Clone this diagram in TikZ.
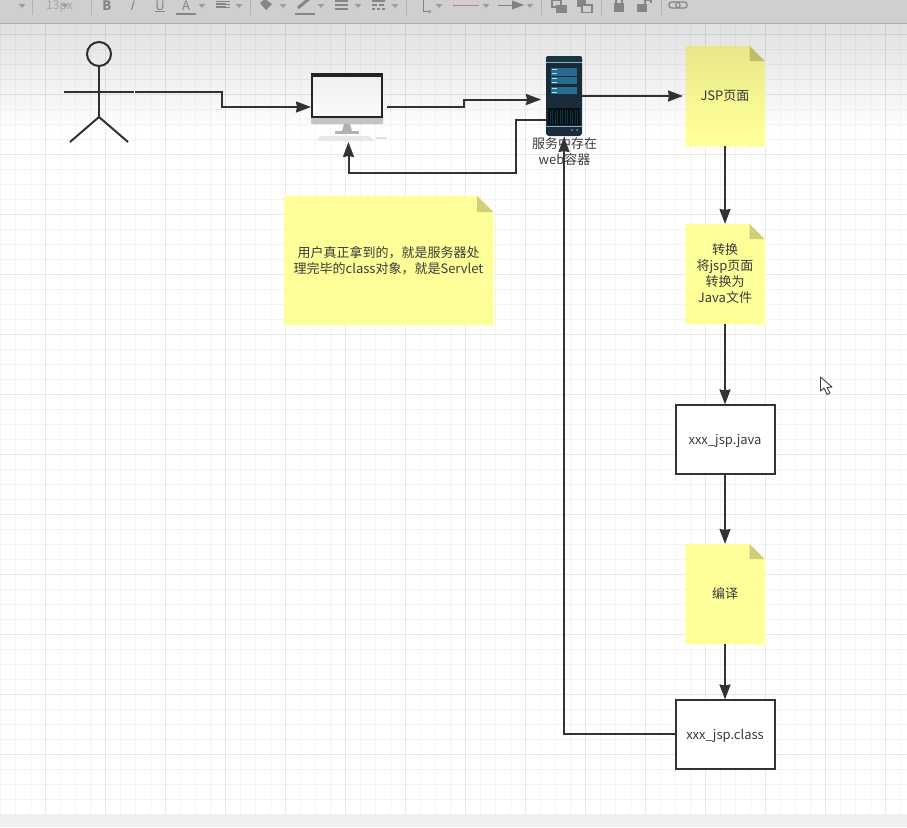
\documentclass[tikz,border=0pt]{standalone}
\usepackage{fontspec}
\setmainfont{Noto Sans CJK SC}
\usetikzlibrary{arrows.meta,fadings,calc}
\pgfdeclarelayer{gridlayer}
\pgfdeclarelayer{notelayer}
\pgfdeclarelayer{toplayer}
\pgfsetlayers{gridlayer,notelayer,main,toplayer}
\definecolor{ink}{HTML}{333333}
\definecolor{inktext}{HTML}{3A3A3A}
\definecolor{notey}{HTML}{FFFF99}
\definecolor{foldy}{HTML}{CFCF78}
\definecolor{minorgrid}{HTML}{F4F4F4}
\definecolor{majorgrid}{HTML}{E8E8E8}
\definecolor{barbg}{HTML}{CFCFCF}
\definecolor{baricon}{HTML}{858585}
\definecolor{srvdark}{HTML}{1B2D3C}
\definecolor{srvtop}{HTML}{1A3A44}
\definecolor{srvblue}{HTML}{2A7396}
\tikzfading[name=topfade, top color=transparent!85, bottom color=transparent!100]
\tikzset{
  x=1pt,y=-1pt,
  txt/.style={font=\fontsize{13}{16}\selectfont,text=inktext,align=center,inner sep=0pt,outer sep=0pt},
  oneline/.style={text height=10pt,text depth=0pt},
  plainbox/.style={txt,oneline,draw=ink,line width=2pt,fill=white,minimum width=99pt,minimum height=69pt},
  ghost/.style={inner sep=0pt,outer sep=0pt},
  conn/.style={draw=ink,line width=2pt,-{Stealth[length=15pt,width=11pt,inset=1pt]}},
  stick/.style={draw=ink,line width=2pt},
  baricn/.style={font=\fontsize{13}{13}\selectfont,text=baricon,inner sep=0pt,outer sep=0pt},
  caret/.style={fill=baricon!80},
}
% name, centre x, centre y, width, height, fold, text
\newcommand{\stickynote}[7]{%
  \node[txt,minimum width=#4 pt,minimum height=#5 pt] (#1) at (#2,#3) {#7};
  \begin{pgfonlayer}{notelayer}
    \fill[notey!45] ([xshift=1pt,yshift=-#6 pt]#1.north east) -- ([xshift=1.5pt,yshift=-#6 pt]#1.north east)
       -- ([xshift=1.5pt,yshift=-1pt]#1.south east) -- ([yshift=-1pt]#1.south west) -- (#1.south west) -- cycle;
    \fill[notey] (#1.north west) -- ([xshift=-#6 pt]#1.north east) -- ([yshift=-#6 pt]#1.north east)
       -- (#1.south east) -- (#1.south west) -- cycle;
    \fill[foldy] ([xshift=-#6 pt]#1.north east) -- ([yshift=-#6 pt]#1.north east) -- ([xshift=-#6 pt,yshift=-#6 pt]#1.north east) -- cycle;
  \end{pgfonlayer}
}
\newcommand{\barcaret}[1]{\fill[caret] (#1-3.5,4) -- (#1+3.5,4) -- (#1,8) -- cycle;}
\begin{document}
\begin{tikzpicture}
\useasboundingbox (0,0) rectangle (907,827);
\begin{pgfonlayer}{gridlayer}
  \fill[white] (0,0) rectangle (907,827);
  \foreach \k in {0,...,60} {
    \draw[minorgrid,line width=1pt] ({0.7+15*\k},24) -- ({0.7+15*\k},814);
  }
  \foreach \k in {0,...,53} {
    \draw[minorgrid,line width=1pt] (0,{19+15*\k}) -- (907,{19+15*\k});
  }
  \foreach \k in {0,...,14} {
    \draw[majorgrid,line width=1pt] ({45.7+60*\k},24) -- ({45.7+60*\k},814);
  }
  \foreach \k in {0,...,13} {
    \draw[majorgrid,line width=1pt] (0,{34+60*\k}) -- (907,{34+60*\k});
  }
  \fill[black!6] (0,814) rectangle (907,827);
\end{pgfonlayer}

% actor
\node[ghost,minimum width=70pt,minimum height=101pt] (actor) at (99,91.5) {};
\draw[stick] (99,54) circle (12);
\draw[stick] (99,66) -- (99,117);
\draw[stick] (actor.west) -- (134,91.5);
\draw[stick] (70,142) -- (99,117) -- (128,142);

% computer
\node[ghost,minimum width=72pt,minimum height=68pt] (pc) at (347,107) {};
\fill[black!22,rounded corners=1pt] (311,116) rectangle (383,124);
\filldraw[fill=white,draw=black!85,line width=2pt] (312,75) rectangle (382,117);
\fill[black!85] (311,73) rectangle (383,76.5);
\fill[black!30] (344,124) -- (350,124) -- (352,131) -- (342,131) -- cycle;
\fill[black!30] (335,131) rectangle (359,133.5);
\fill[black!9] (320,136) -- (369,136) -- (375,141) -- (317,141) -- cycle;
\fill[black!12] (376,136.5) rectangle (387,139);

% server
\node[ghost,fill=srvdark,rounded corners=3pt,minimum width=36pt,minimum height=80pt] (srv) at (564,96) {};
\fill[srvtop,rounded corners=2pt] (546,56) rectangle (582,62);
\fill[srvblue!45] (546,62) rectangle (582,63);
\fill[srvblue] (551,68) rectangle (577,76);
\fill[srvblue] (551,77) rectangle (577,84);
\fill[srvblue] (551,87) rectangle (577,94);
\foreach \y in {69.5,73.5,78.5,82,88.5,92} {
  \draw[cyan!25,line width=0.8pt] (552,\y) -- (557,\y);
}
\fill[black!70!srvdark] (548,108) rectangle (580,125);
\foreach \x in {550,552.5,...,578} {
  \draw[srvblue!45!black,line width=0.6pt] (\x,110) -- (\x,124);
}
\fill[srvblue!60!white] (546,125.5) rectangle (582,127);
\fill[srvblue!70] (572,130) circle (1);
\fill[srvblue!70] (577,130) circle (1);
\node[txt] (srvlabel) at (564.5,151.5) {服务中存在\\web容器};

% notes
\stickynote{jsp}{725}{96}{79}{100}{15}{\rule{0pt}{11pt}JSP页面}
\stickynote{conv}{725}{274}{79}{100}{15}{转换\\将jsp页面\\转换为\\Java文件}
\stickynote{comp}{725}{594}{79}{100}{15}{编译}
\stickynote{info}{388.5}{260.5}{209}{129}{16}{用户真正拿到的，就是服务器处\\理完毕的class对象，就是Servlet}

% boxes
\node[plainbox] (java) at (725,439) {xxx\_jsp.java};
\node[plainbox] (cls) at (725,734) {xxx\_jsp.class};

% connectors
\coordinate (pcin) at (311,107);
\coordinate (a1) at (135,91.5);
\coordinate (a2) at (222,91.5);
\coordinate (a3) at (222,107);
\draw[conn] (a1) -- (a2) -- (a3) -- (pcin);
\coordinate (b1) at (387,107);
\coordinate (b2) at (464,107);
\coordinate (b3) at (464,99.5);
\coordinate (b4) at (541,99.5);
\draw[conn] (b1) -- (b2) -- (b3) -- (b4);
\coordinate (jspin) at (683,96);
\draw[conn] (srv.east) -- (jspin);
\coordinate (c0) at (546,120);
\coordinate (c1) at (516,120);
\coordinate (c2) at (516,173);
\coordinate (c3) at (348.5,173);
\coordinate (c4) at (348.5,142);
\draw[conn] (c0) -- (c1) -- (c2) -- (c3) -- (c4);
\draw[conn] (jsp.south) -- (conv.north);
\draw[conn] (conv.south) -- (java.north);
\draw[conn] (java.south) -- (comp.north);
\draw[conn] (comp.south) -- (cls.north);
\coordinate (d1) at (564,734);
\coordinate (d2) at (564,137);
\draw[conn] (cls.west) -- (d1) -- (d2);

% mouse cursor
\filldraw[fill=white,draw=black!75,line width=0.9pt,line join=round]
  (820.5,377) -- (820.5,391) -- (824,388) -- (827,394.5) -- (830,393) -- (827,387.5) -- (832,387) -- cycle;

% top fade and toolbar
\begin{pgfonlayer}{toplayer}
  \fill[black,path fading=topfade] (0,-6) rectangle (907,132);
  \fill[barbg] (0,0) rectangle (907,23.5);
  \draw[black!32,line width=0.8pt] (0,23.5) -- (907,23.5);
  \foreach \x in {32.5,91.5,250.5,406.5,541.5,601.5,661.5} {
    \draw[black!30,line width=0.7pt] (\x,0) -- (\x,15);
  }
  \node[baricn,text=black!35,font=\fontsize{12}{12}\selectfont] (fontsize) at (59.5,6.5) {13px};
  \node[baricn,font=\fontsize{13}{13}\selectfont\bfseries] (bold) at (107,5.5) {B};
  \node[baricn,xslant=0.3,transform shape] (ital) at (133,5.5) {I};
  \node[baricn] (under) at (160,5.5) {U};
  \draw[baricon,line width=1pt] (155,11.5) -- (165,11.5);
  \node[baricn] (acol) at (186,5.5) {A};
  \draw[baricon,line width=2pt] (176,13.5) -- (196,13.5);
  \foreach \y in {1.5,4.5,7.5} {\draw[baricon,line width=0.8pt] (216,\y) -- (230,\y);}
  \draw[baricon,line width=0.8pt] (216,3) -- (226,3) (216,6) -- (226,6);
  \fill[baricon] (260,3) -- (265,-1) -- (272,4) -- (266,10) -- cycle;
  \draw[baricon,line width=3pt] (298,8) -- (310,-2);
  \draw[baricon,line width=2pt] (295,13.5) -- (315,13.5);
  \foreach \y in {1,5,9} {\draw[baricon,line width=1.2pt] (335,\y) -- (348,\y);}
  \draw[baricon,line width=1.2pt] (372,1) -- (385,1);
  \draw[baricon,line width=1.2pt,dash pattern=on 5pt off 1.5pt] (372,5) -- (385,5);
  \draw[baricon,line width=1.5pt,dash pattern=on 3pt off 2pt] (372,9) -- (385,9);
  \draw[black!50,line width=0.7pt] (423.5,0) -- (423.5,11.5) -- (428,11.5);
  \draw[black!50,line width=0.6pt] (429.5,11.5) circle (1.2);
  \draw[red!50!black!50,line width=0.7pt] (454,5.5) -- (479,5.5);
  \fill[red!60!black!60] (454,5.5) circle (1);
  \draw[black!50,line width=0.7pt] (498,5) -- (512,5);
  \fill[black!50] (512,0.5) -- (524,5) -- (512,9.5) -- cycle;
  \foreach \x in {22,65,202,239,283,321,358,395,439,486,530} {\barcaret{\x}}
  \draw[baricon,line width=1.3pt,fill=barbg] (552,0) rectangle (561,7);
  \fill[baricon] (556,5) rectangle (567,12.5);
  \fill[baricon] (577,0) rectangle (586,7);
  \draw[baricon,line width=1.3pt,fill=barbg] (582,5) rectangle (592,12.5);
  \fill[baricon] (614,3) rectangle (624,12);
  \draw[baricon,line width=1.2pt] (616,3) -- (616,0) (622,3) -- (622,0);
  \fill[baricon] (637,4) rectangle (647,12);
  \draw[baricon,line width=1.2pt] (645,4) -- (645,0.5) -- (651,0.5) -- (651,3);
  \draw[baricon,line width=1.2pt,rounded corners=2.5pt] (669,2) rectangle (680,8);
  \draw[baricon,line width=1.2pt,rounded corners=2.5pt] (676,2) rectangle (687,8);
\end{pgfonlayer}
\end{tikzpicture}
\end{document}
